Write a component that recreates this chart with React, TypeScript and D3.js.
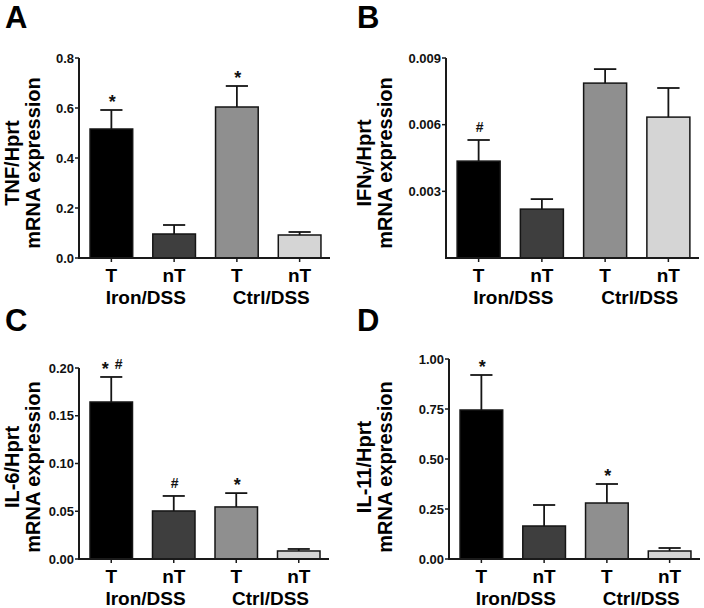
import React from "react";
import * as d3 from "d3";

// ---------- data ----------
const categories = ["T", "nT", "T", "nT"];
const groups = ["Iron/DSS", "Ctrl/DSS"];

const tnfMean = [0.516, 0.096, 0.604, 0.092];
const tnfErr = [0.076, 0.036, 0.084, 0.012];
const tnfTicks = [0, 0.2, 0.4, 0.6, 0.8];
const tnfTickLabels = ["0.0", "0.2", "0.4", "0.6", "0.8"];
const tnfNotes = ["*", "", "*", ""];

const ifngMean = [0.00436, 0.0022, 0.00787, 0.00634];
const ifngErr = [0.00095, 0.00045, 0.00063, 0.00131];
const ifngTicks = [0.003, 0.006, 0.009];
const ifngTickLabels = ["0.003", "0.006", "0.009"];
const ifngNotes = ["#", "", "", ""];

const il6Mean = [0.1644, 0.0503, 0.0545, 0.0084];
const il6Err = [0.0262, 0.0157, 0.0145, 0.0021];
const il6Ticks = [0, 0.05, 0.1, 0.15, 0.2];
const il6TickLabels = ["0.00", "0.05", "0.10", "0.15", "0.20"];
const il6Notes = ["* #", "#", "*", ""];

const il11Mean = [0.745, 0.165, 0.28, 0.04];
const il11Err = [0.175, 0.105, 0.095, 0.015];
const il11Ticks = [0, 0.25, 0.5, 0.75, 1.0];
const il11TickLabels = ["0.00", "0.25", "0.50", "0.75", "1.00"];
const il11Notes = ["*", "", "*", ""];

// ---------- styles ----------
const barColors = ["#000000", "#3e3e3e", "#8f8f8f", "#d5d5d5"];
const FONT = "'Liberation Sans', Arial, Helvetica, sans-serif";

type Panel = {
  letter: string;
  title: React.ReactNode;
  means: number[];
  errs: number[];
  ticks: number[];
  tickLabels: string[];
  notes: string[];
  yMax: number;
  ox: number;
  axisX: number;
  yTop: number;
  yBot: number;
  xEnd: number;
  letterY: number;
  titleCy: number;
};

const panels: Panel[] = [
  {
    letter: "A",
    title: "TNF/Hprt",
    means: tnfMean,
    errs: tnfErr,
    ticks: tnfTicks,
    tickLabels: tnfTickLabels,
    notes: tnfNotes,
    yMax: 0.8,
    ox: 0,
    axisX: 79,
    yTop: 58,
    yBot: 258,
    xEnd: 330,
    letterY: 28,
    titleCy: 163,
  },
  {
    letter: "B",
    title: (
      <>
        IFN<tspan fontSize={15}>γ</tspan>/Hprt
      </>
    ),
    means: ifngMean,
    errs: ifngErr,
    ticks: ifngTicks,
    tickLabels: ifngTickLabels,
    notes: ifngNotes,
    yMax: 0.009,
    ox: 352,
    axisX: 446,
    yTop: 58,
    yBot: 258,
    xEnd: 699,
    letterY: 28,
    titleCy: 163,
  },
  {
    letter: "C",
    title: "IL-6/Hprt",
    means: il6Mean,
    errs: il6Err,
    ticks: il6Ticks,
    tickLabels: il6TickLabels,
    notes: il6Notes,
    yMax: 0.2,
    ox: 0,
    axisX: 79,
    yTop: 368,
    yBot: 559,
    xEnd: 329,
    letterY: 331,
    titleCy: 467,
  },
  {
    letter: "D",
    title: "IL-11/Hprt",
    means: il11Mean,
    errs: il11Err,
    ticks: il11Ticks,
    tickLabels: il11TickLabels,
    notes: il11Notes,
    yMax: 1.0,
    ox: 352,
    axisX: 449,
    yTop: 359,
    yBot: 559,
    xEnd: 700,
    letterY: 331,
    titleCy: 467,
  },
];

function Note({ text, x, y }: { text: string; x: number; y: number }) {
  const tokens = text.split(" ");
  const starOnly = tokens.length === 1;
  return (
    <text x={x} y={y} textAnchor="middle" fontFamily={FONT} fontWeight="bold" fill="#111">
      {tokens.map((t, i) => {
        let dy = 0;
        if (t === "#") dy = -6;
        let dx = i > 0 ? 6 : 0;
        return (
          <tspan key={i} fontSize={t === "*" ? 18 : 14} dy={dy} dx={dx}>
            {t}
          </tspan>
        );
      })}
    </text>
  );
}

function PanelView({ p }: { p: Panel }) {
  const idx = categories.map((_, i) => String(i));
  const x = d3
    .scaleBand<string>()
    .domain(idx)
    .range([p.axisX + 1, p.xEnd + 1])
    .paddingInner(0.32)
    .paddingOuter(0.16);
  const y = d3.scaleLinear().domain([0, p.yMax]).range([p.yBot, p.yTop]);
  const bw = x.bandwidth();
  const capW = bw * 0.52;
  const centers = idx.map((k) => (x(k) as number) + bw / 2);

  return (
    <g>
      <text x={p.ox + 5} y={p.letterY} fontFamily={FONT} fontWeight="bold" fontSize={31} fill="#000">
        {p.letter}
      </text>
      <g transform={`translate(${p.ox + 19},${p.titleCy}) rotate(-90)`}>
        <text textAnchor="middle" fontFamily={FONT} fontWeight="bold" fontSize={20} fill="#000">
          {p.title}
        </text>
      </g>
      <g transform={`translate(${p.ox + 40},${p.titleCy}) rotate(-90)`}>
        <text textAnchor="middle" fontFamily={FONT} fontWeight="bold" fontSize={20} fill="#000">
          mRNA expression
        </text>
      </g>

      {/* bars */}
      {p.means.map((m, i) => (
        <rect
          key={"b" + i}
          x={x(idx[i])}
          y={y(m)}
          width={bw}
          height={p.yBot - y(m)}
          fill={barColors[i]}
          stroke="#151515"
          strokeWidth={1.5}
        />
      ))}
      {/* error bars */}
      {p.means.map((m, i) => {
        const top = y(m + p.errs[i]);
        return (
          <g key={"e" + i} stroke="#151515" strokeWidth={1.8}>
            <line x1={centers[i]} x2={centers[i]} y1={y(m)} y2={top} />
            <line x1={centers[i] - capW / 2} x2={centers[i] + capW / 2} y1={top} y2={top} />
          </g>
        );
      })}
      {/* significance notes */}
      {p.notes.map((n, i) =>
        n ? <Note key={"n" + i} text={n} x={centers[i] + 1} y={y(p.means[i] + p.errs[i]) - 2} /> : null
      )}

      {/* y axis */}
      <line x1={p.axisX} x2={p.axisX} y1={p.yTop} y2={p.yBot + 1} stroke="#1a1a1a" strokeWidth={2} />
      {p.ticks.map((t, i) => (
        <g key={"t" + i}>
          <line x1={p.axisX - 4} x2={p.axisX} y1={y(t)} y2={y(t)} stroke="#1a1a1a" strokeWidth={1.5} />
          <text
            x={p.axisX - 5}
            y={y(t)}
            dy="0.36em"
            textAnchor="end"
            fontFamily={FONT}
            fontWeight="bold"
            fontSize={13}
            fill="#111"
          >
            {p.tickLabels[i]}
          </text>
        </g>
      ))}
      {/* x axis */}
      <line x1={p.axisX - 1} x2={p.xEnd} y1={p.yBot} y2={p.yBot} stroke="#1a1a1a" strokeWidth={2} />
      {centers.map((c, i) => (
        <g key={"x" + i}>
          <line x1={c} x2={c} y1={p.yBot} y2={p.yBot + 4} stroke="#1a1a1a" strokeWidth={1.5} />
          <text
            x={c}
            y={p.yBot + 24}
            textAnchor="middle"
            fontFamily={FONT}
            fontWeight="bold"
            fontSize={19}
            fill="#000"
          >
            {categories[i]}
          </text>
        </g>
      ))}
      {groups.map((g, gi) => (
        <text
          key={"g" + gi}
          x={(centers[gi * 2] + centers[gi * 2 + 1]) / 2 + 3}
          y={p.yBot + 46}
          textAnchor="middle"
          fontFamily={FONT}
          fontWeight="bold"
          fontSize={19}
          fill="#000"
        >
          {g}
        </text>
      ))}
    </g>
  );
}

export default function App() {
  return (
    <svg
      width={704}
      height={608}
      viewBox="0 0 704 608"
      style={{ position: "absolute", left: 0, top: 0, background: "#fff" }}
    >
      <rect x={0} y={0} width={704} height={608} fill="#fff" />
      {panels.map((p) => (
        <PanelView key={p.letter} p={p} />
      ))}
    </svg>
  );
}
